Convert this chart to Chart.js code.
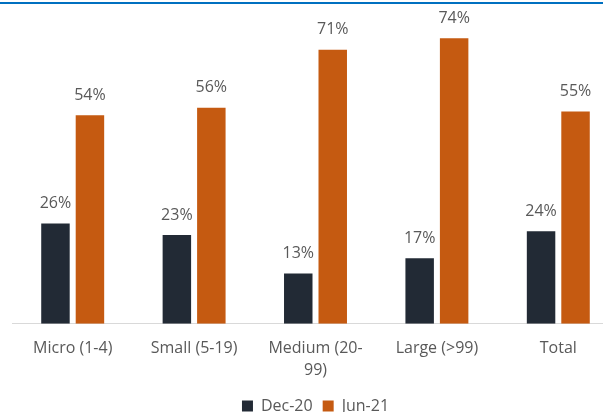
<!DOCTYPE html>
<html>
<head>
<meta charset="utf-8">
<title>Share by firm size</title>
<script src="https://cdn.jsdelivr.net/npm/chart.js@4.4.1/dist/chart.umd.min.js"></script>
<style>
  html, body { margin: 0; padding: 0; background: #fff; }
  body { width: 603px; height: 412px; overflow: hidden; position: relative; }
  .top-rule { position: absolute; left: 0; top: 2px; width: 603px; height: 2px; background: #0070C0; }
  #sizeChart { position: absolute; left: 0; top: 0; }
</style>
</head>
<body>
<div class="top-rule"></div>
<canvas id="sizeChart" width="640" height="424"></canvas>
<script>
// Firm size groups and the two survey rounds
const categories = ['Micro (1-4)', 'Small (5-19)', ['Medium (20-', '99)'], 'Large (>99)', 'Total'];
const dec20 = [26, 23, 13, 17, 24];
const jun21 = [54, 56, 71, 74, 55];
const seriesNames = ['Dec-20', 'Jun-21'];

const textGray = '#595959';
const fontFamily = '"Open Sans", "Noto Sans", sans-serif';

// Percent labels above every bar
const barValueLabels = {
  id: 'barValueLabels',
  afterDatasetsDraw(chart) {
    const ctx = chart.ctx;
    ctx.save();
    ctx.font = '16px ' + fontFamily;
    ctx.fillStyle = textGray;
    ctx.textAlign = 'center';
    ctx.textBaseline = 'middle';
    chart.data.datasets.forEach((ds, i) => {
      const meta = chart.getDatasetMeta(i);
      meta.data.forEach((bar, j) => {
        ctx.fillText(ds.data[j] + '%', bar.x, bar.y - 20);
      });
    });
    ctx.restore();
  }
};

new Chart(document.getElementById('sizeChart').getContext('2d'), {
  type: 'bar',
  data: {
    labels: categories,
    datasets: [
      {
        label: seriesNames[0],
        data: dec20,
        backgroundColor: '#222A35',
        categoryPercentage: 0.568,
        barPercentage: 0.826
      },
      {
        label: seriesNames[1],
        data: jun21,
        backgroundColor: '#C55A11',
        categoryPercentage: 0.568,
        barPercentage: 0.826
      }
    ]
  },
  options: {
    responsive: false,
    animation: false,
    layout: { padding: { top: 15, left: 12, right: 21, bottom: 0 } },
    plugins: {
      legend: {
        position: 'bottom',
        labels: {
          color: textGray,
          font: { family: fontFamily, size: 16 },
          boxWidth: 11,
          boxHeight: 11,
          padding: 10
        }
      },
      tooltip: { enabled: false }
    },
    scales: {
      y: {
        display: false,
        min: 0,
        max: 80
      },
      x: {
        grid: { display: false, drawTicks: false },
        border: { display: true, color: '#D9D9D9', width: 1 },
        ticks: {
          color: textGray,
          font: { family: fontFamily, size: 16, lineHeight: 1.35 },
          padding: 14,
          maxRotation: 0,
          autoSkip: false
        },
        // pull the legend a little closer to the wrapped labels
        afterFit(scale) {
          scale.height -= 7;
        }
      }
    }
  },
  plugins: [barValueLabels]
});
</script>
</body>
</html>
